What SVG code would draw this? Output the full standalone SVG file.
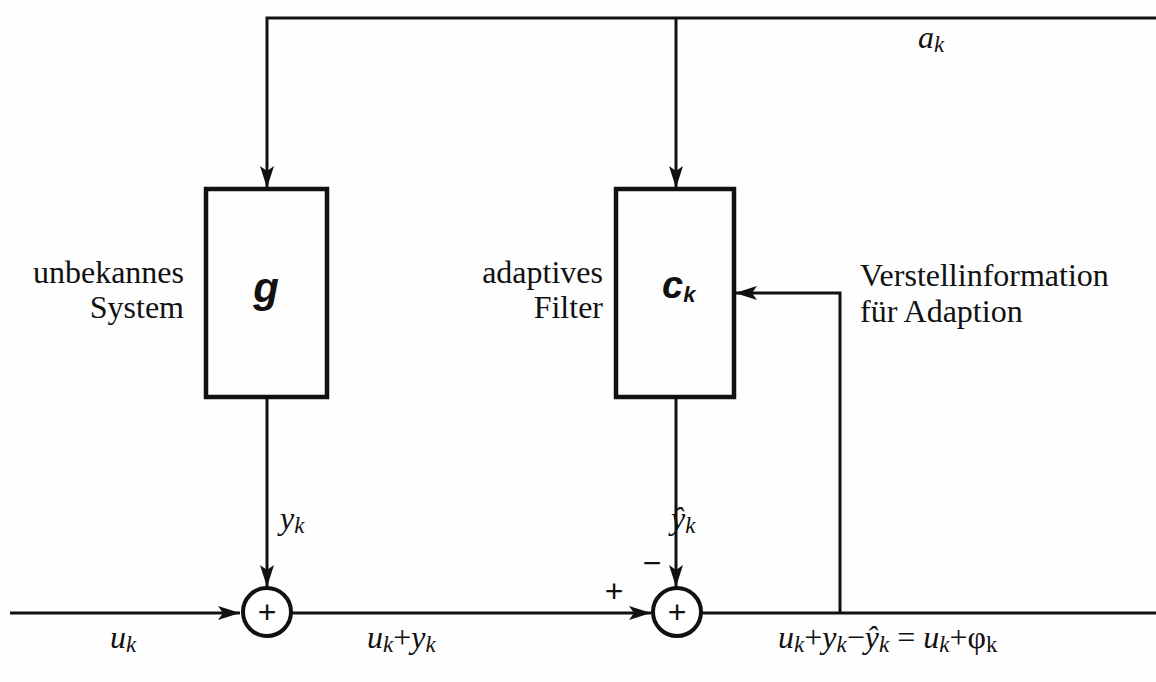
<svg xmlns="http://www.w3.org/2000/svg" width="1156" height="682" viewBox="0 0 1156 682">
<style>
.bg{fill:#fefefe}
.box{fill:none;stroke:#111;stroke-width:4.5}
.sum{fill:#fff;stroke:#111;stroke-width:4}
.ln{fill:none;stroke:#111;stroke-width:3}
.t{font-family:"Liberation Serif",serif;font-size:32px;fill:#111}
.m{font-family:"Liberation Serif",serif;font-style:italic;font-size:32px;fill:#111}
.sym{font-family:"Liberation Sans",sans-serif;font-weight:bold;font-style:italic;fill:#111}
.pl{font-family:"Liberation Sans",sans-serif;font-size:32px;fill:#111}
</style>
<defs>
<marker id="ah" viewBox="0 0 22 14" refX="22" refY="7" markerWidth="22" markerHeight="14" markerUnits="userSpaceOnUse" orient="auto">
<path d="M0,0 L22,7 L0,14 L5,7 Z" fill="#111"/>
</marker>
</defs>
<rect class="bg" x="0" y="0" width="1156" height="682"/>
<g id="connectors">
<path class="ln" d="M1156,18 H267 V188" marker-end="url(#ah)"/>
<path class="ln" d="M676,18 V188" marker-end="url(#ah)"/>
<path class="ln" d="M267,397 V587" marker-end="url(#ah)"/>
<path class="ln" d="M676,397 V587" marker-end="url(#ah)"/>
<path class="ln" d="M10,613 H240" marker-end="url(#ah)"/>
<path class="ln" d="M292,613 H651" marker-end="url(#ah)"/>
<path class="ln" d="M702,613 H1156"/>
<path class="ln" d="M840,613 V293 H735" marker-end="url(#ah)"/>
</g>
<g id="system">
<rect class="box" x="206" y="189" width="121" height="208"/>
<text class="sym" x="266" y="302" font-size="42" text-anchor="middle">g</text>
<text class="t" x="184" y="283" text-anchor="end">unbekannes</text>
<text class="t" x="184" y="318" text-anchor="end">System</text>
</g>
<g id="filter">
<rect class="box" x="616" y="189" width="118" height="208"/>
<text class="sym" x="662" y="298" font-size="38">c<tspan font-size="22" dy="4">k</tspan></text>
<text class="t" x="603" y="283" text-anchor="end">adaptives</text>
<text class="t" x="603" y="318" text-anchor="end">Filter</text>
</g>
<g id="sum1">
<circle class="sum" cx="267" cy="612" r="24"/>
<text class="pl" x="267" y="623" text-anchor="middle">+</text>
</g>
<g id="sum2">
<circle class="sum" cx="677" cy="612" r="24"/>
<text class="pl" x="677" y="623" text-anchor="middle">+</text>
</g>
<g id="labels">
<text class="m" x="918" y="48">a<tspan font-size="23" dy="4">k</tspan></text>
<text class="t" x="860" y="286" font-size="31">Verstellinformation</text>
<text class="t" x="860" y="322" font-size="31">für Adaption</text>
<text class="m" x="280" y="529">y<tspan font-size="23" dy="4">k</tspan></text>
<text class="m" x="671" y="529">ŷ<tspan font-size="23" dy="4">k</tspan></text>
<text class="pl" x="652" y="574" text-anchor="middle">−</text>
<text class="pl" x="614" y="602" text-anchor="middle">+</text>
<text class="m" x="110" y="648">u<tspan font-size="23" dy="4">k</tspan></text>
<text class="m" x="367" y="648">u<tspan font-size="23" dy="4">k</tspan><tspan dy="-4" font-style="normal">+</tspan>y<tspan font-size="23" dy="4">k</tspan></text>
<text class="m" x="778" y="648">u<tspan font-size="23" dy="4">k</tspan><tspan dy="-4" font-style="normal">+</tspan>y<tspan font-size="23" dy="4">k</tspan><tspan dy="-4" font-style="normal">−</tspan>ŷ<tspan font-size="23" dy="4">k</tspan><tspan dy="-4" font-style="normal"> = </tspan>u<tspan font-size="23" dy="4">k</tspan><tspan dy="-4" font-style="normal">+φ</tspan><tspan font-size="23" dy="4" font-style="normal">k</tspan></text>
</g>
</svg>
